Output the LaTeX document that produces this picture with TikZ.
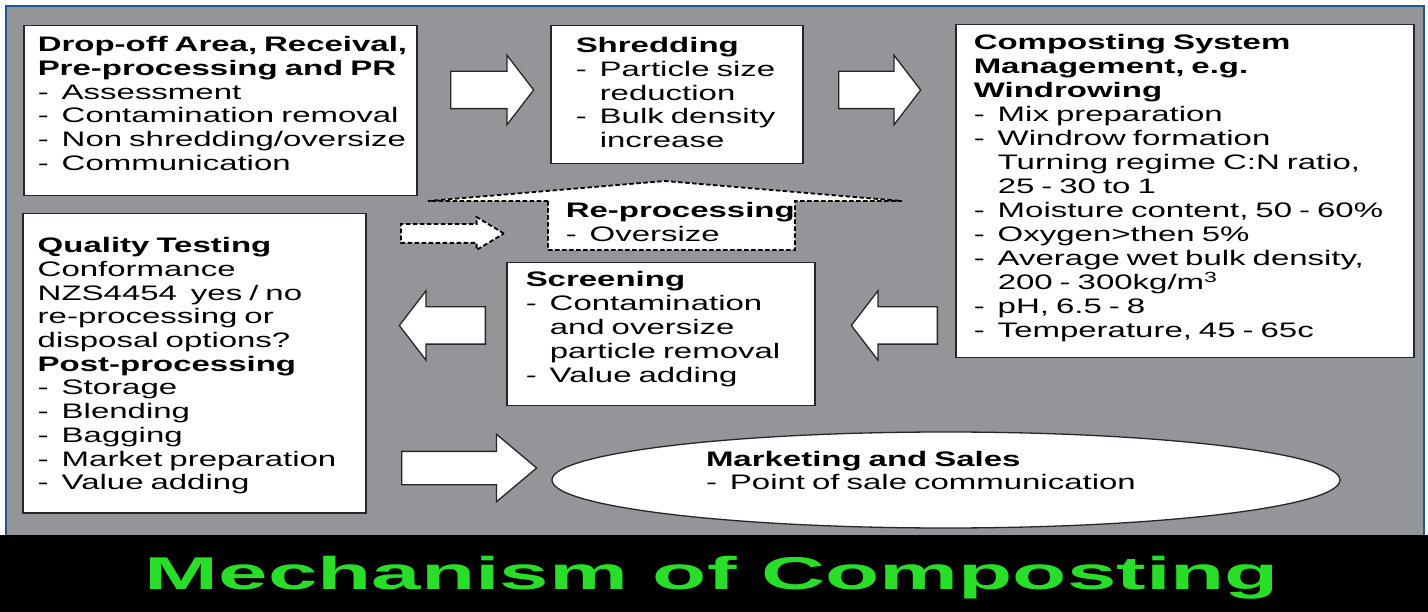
\documentclass[tikz,border=0pt]{standalone}
\usepackage{fontspec}
\setmainfont{Liberation Sans}[FakeStretch=1.57]
\newfontfamily\titlefont{Liberation Sans}[FakeStretch=1.93]
\usetikzlibrary{shapes.geometric, shapes.arrows, positioning}

\definecolor{panelgray}{RGB}{147,149,152}
\definecolor{frameblue}{RGB}{31,84,150}
\definecolor{titlegreen}{RGB}{40,222,40}

\newcommand{\bul}{\makebox[24pt][l]{-}}
\newcommand{\cont}{\hspace*{24pt}}
\newcommand{\pad}[1]{\leftskip=#1pt\rightskip=-80pt plus 1fil\relax}

\begin{document}
\begin{tikzpicture}[
    x=1pt, y=-1pt,
    box/.style={rectangle, draw=black!85, line width=1.5pt, fill=white, inner sep=0pt, anchor=north west, align=left, font=\fontsize{21}{23.7}\selectfont},
    blockarrow/.style={single arrow, draw=black!85, line width=1.3pt, fill=white, inner xsep=0pt, inner ysep=18pt, anchor=tail, single arrow head extend=16pt, single arrow tip angle=105},
    dasharrow/.style={single arrow, draw=black, line width=1.8pt, dash pattern=on 4.5pt off 2.5pt, fill=white, inner xsep=0pt, inner ysep=8.5pt, anchor=tail, single arrow head extend=7pt, single arrow tip angle=62}
]

% panel and title band
\useasboundingbox (0,0) rectangle (1428,612);
\fill[white] (0,0) rectangle (1428,612);
\fill[panelgray] (6,6) rectangle (1424,535);
\draw[frameblue, line width=2pt] (6,535) -- (6,6) -- (1424,6) -- (1424,535);
\fill[black] (0,535) rectangle (1428,612);

% boxes
\node[box, minimum width=393pt, minimum height=170pt, text width=393pt, text height=26pt, text depth=144pt] (drop) at (23,25)
  {\pad{14}\textbf{Drop-off Area, Receival,}\\\textbf{Pre-processing and PR}\\\bul Assessment\\\bul Contamination removal\\\bul Non shredding/oversize\\\bul Communication\par};
\node[box, minimum width=252pt, minimum height=138pt, text width=252pt, text height=27pt, text depth=111pt] (shred) at (550,25)
  {\pad{25}\textbf{Shredding}\\\bul Particle size\\\cont reduction\\\bul Bulk density\\\cont increase\par};
\node[box, font=\fontsize{21}{24}\selectfont, minimum width=458pt, minimum height=333pt, text width=458pt, text height=25pt, text depth=308pt] (comp) at (955,24)
  {\pad{18}\textbf{Composting System}\\\textbf{Management, e.g.}\\\textbf{Windrowing}\\\bul Mix preparation\\\bul Windrow formation\\\cont Turning regime C:N ratio,\\\cont 25 - 30 to 1\\\bul Moisture content, 50 - 60\%\\\bul Oxygen>then 5\%\\\bul Average wet bulk density,\\\cont 200 - 300kg/m\textsuperscript{3}\\\bul pH, 6.5 - 8\\\bul Temperature, 45 - 65c\par};
\node[box, minimum width=343pt, minimum height=299pt, text width=343pt, text height=39pt, text depth=260pt] (quality) at (22,213)
  {\pad{15}\textbf{Quality Testing}\\Conformance\\NZS4454\ \ yes / no\\re-processing or\\disposal options?\\\textbf{Post-processing}\\\bul Storage\\\bul Blending\\\bul Bagging\\\bul Market preparation\\\bul Value adding\par};
\node[box, font=\fontsize{21}{24}\selectfont, minimum width=308pt, minimum height=143pt, text width=308pt, text height=24pt, text depth=119pt] (screen) at (506,262)
  {\pad{19}\textbf{Screening}\\\bul Contamination\\\cont and oversize\\\cont particle removal\\\bul Value adding\par};

% re-processing loop
\draw[line width=1.8pt, dash pattern=on 4.5pt off 2.5pt, fill=white] (548,201) -- (428,201) -- (665,181) -- (902,201) -- (795,201) -- (795,250) -- (548,250) -- cycle;
\node[box, draw=none, fill=none, minimum width=247pt, minimum height=49pt, text width=247pt, text height=16pt, text depth=33pt] (reproc) at (548,201)
  {\pad{17}\textbf{Re-processing}\\\bul Oversize\par};
\node[dasharrow, minimum height=103pt] (toreproc) at (400,233.5) {};

% market
\node[ellipse, draw=black!85, line width=1.3pt, fill=white, minimum width=788pt, minimum height=96pt, inner sep=0pt, text width=480pt, align=left, text height=16pt, text depth=44pt, font=\fontsize{21}{24}\selectfont] (market) at (946,480)
  {\textbf{Marketing and Sales}\\\bul Point of sale communication};

% flow arrows
\node[blockarrow, minimum height=83pt] (dropshred) at (450,90) {};
\node[blockarrow, minimum height=82pt] (shredcomp) at (838,90) {};
\node[blockarrow, shape border rotate=180, minimum height=86pt] (compscreen) at (938,325.5) {};
\node[blockarrow, shape border rotate=180, minimum height=86pt] (screenqual) at (486,325.5) {};
\node[blockarrow, minimum height=135pt, inner ysep=16pt, single arrow head extend=17pt, single arrow tip angle=80] (qualmarket) at (401,468) {};

% title
\node[font=\titlefont\bfseries\fontsize{46}{50}\selectfont, text=titlegreen, anchor=base] (title) at (712,589) {Mechanism of Composting};

\end{tikzpicture}
\end{document}
